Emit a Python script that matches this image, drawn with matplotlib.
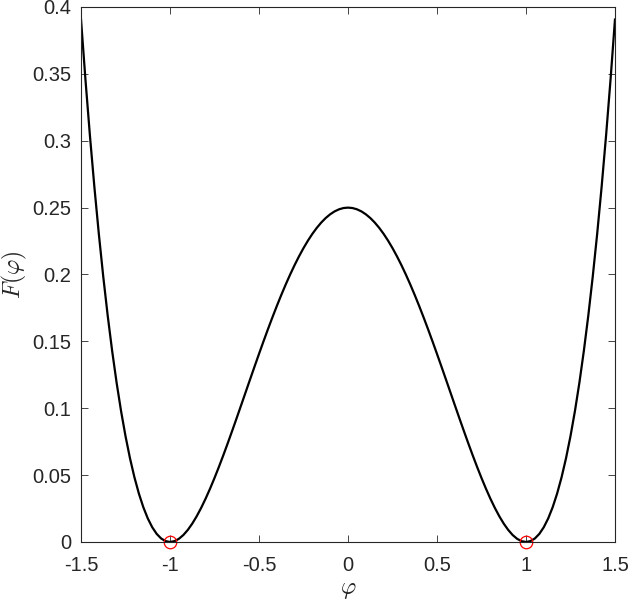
import matplotlib
matplotlib.use('Agg')
import matplotlib.pyplot as plt
import numpy as np

# values for phi >= 0, steps of 0.025 (curve is symmetric)
phi_half = np.round(np.arange(0, 61) * 0.025, 3)
F_half = [0.25, 0.249688, 0.24875, 0.247195, 0.245025, 0.242249, 0.238877, 0.234922,
          0.2304, 0.225328, 0.219727, 0.213617, 0.207025, 0.199977, 0.192502, 0.184631,
          0.1764, 0.167844, 0.159002, 0.149914, 0.140625, 0.13118, 0.121627, 0.112016,
          0.1024, 0.092834, 0.083377, 0.074086, 0.065025, 0.056258, 0.047852, 0.039875,
          0.0324, 0.0255, 0.019252, 0.013733, 0.009025, 0.005211, 0.002377, 0.000609,
          0.0, 0.000641, 0.002627, 0.006055, 0.011025, 0.017639, 0.026002, 0.036219,
          0.0484, 0.062656, 0.079102, 0.097852, 0.119025, 0.142742, 0.169127, 0.198303,
          0.2304, 0.265547, 0.303877, 0.345524, 0.390625]

phi = np.concatenate([-phi_half[:0:-1], phi_half])
F = np.array(F_half[:0:-1] + F_half)

# minima marked in red
min_phi = [-1, 1]
min_F = [0, 0]

xticks = [-1.5, -1, -0.5, 0, 0.5, 1, 1.5]
xticklabels = ['-1.5', '-1', '-0.5', '0', '0.5', '1', '1.5']
yticks = [0, 0.05, 0.1, 0.15, 0.2, 0.25, 0.3, 0.35, 0.4]
yticklabels = ['0', '0.05', '0.1', '0.15', '0.2', '0.25', '0.3', '0.35', '0.4']

plt.rcParams['font.family'] = ['Liberation Sans', 'DejaVu Sans']
plt.rcParams['mathtext.fontset'] = 'cm'

fig = plt.figure(figsize=(6.31, 6.03), dpi=100)
ax = fig.add_axes([0.1284, 0.1012, 0.8462, 0.8872])

ax.plot(phi, F, color='k', lw=1.6)
ax.plot(min_phi, min_F, 'o', mfc='none', mec='red', ms=9, mew=0.9, clip_on=False)

ax.set_xlim(-1.5, 1.5)
ax.set_ylim(0, 0.4)
ax.set_xticks(xticks)
ax.set_xticklabels(xticklabels)
ax.set_yticks(yticks)
ax.set_yticklabels(yticklabels)

grey = '#262626'
for s in ax.spines.values():
    s.set_color(grey)
    s.set_linewidth(0.8)
ax.tick_params(direction='in', length=5, width=0.6, colors=grey, labelsize=14.5,
               top=True, right=True)
ax.tick_params(axis='x', pad=10)
ax.tick_params(axis='y', pad=7)

ax.set_xlabel(r'$\varphi$', fontsize=17, color=grey, labelpad=3)
ax.set_ylabel(r'$F(\varphi)$', fontsize=17, color=grey, labelpad=2)

fig.savefig('out.png', dpi=100)
